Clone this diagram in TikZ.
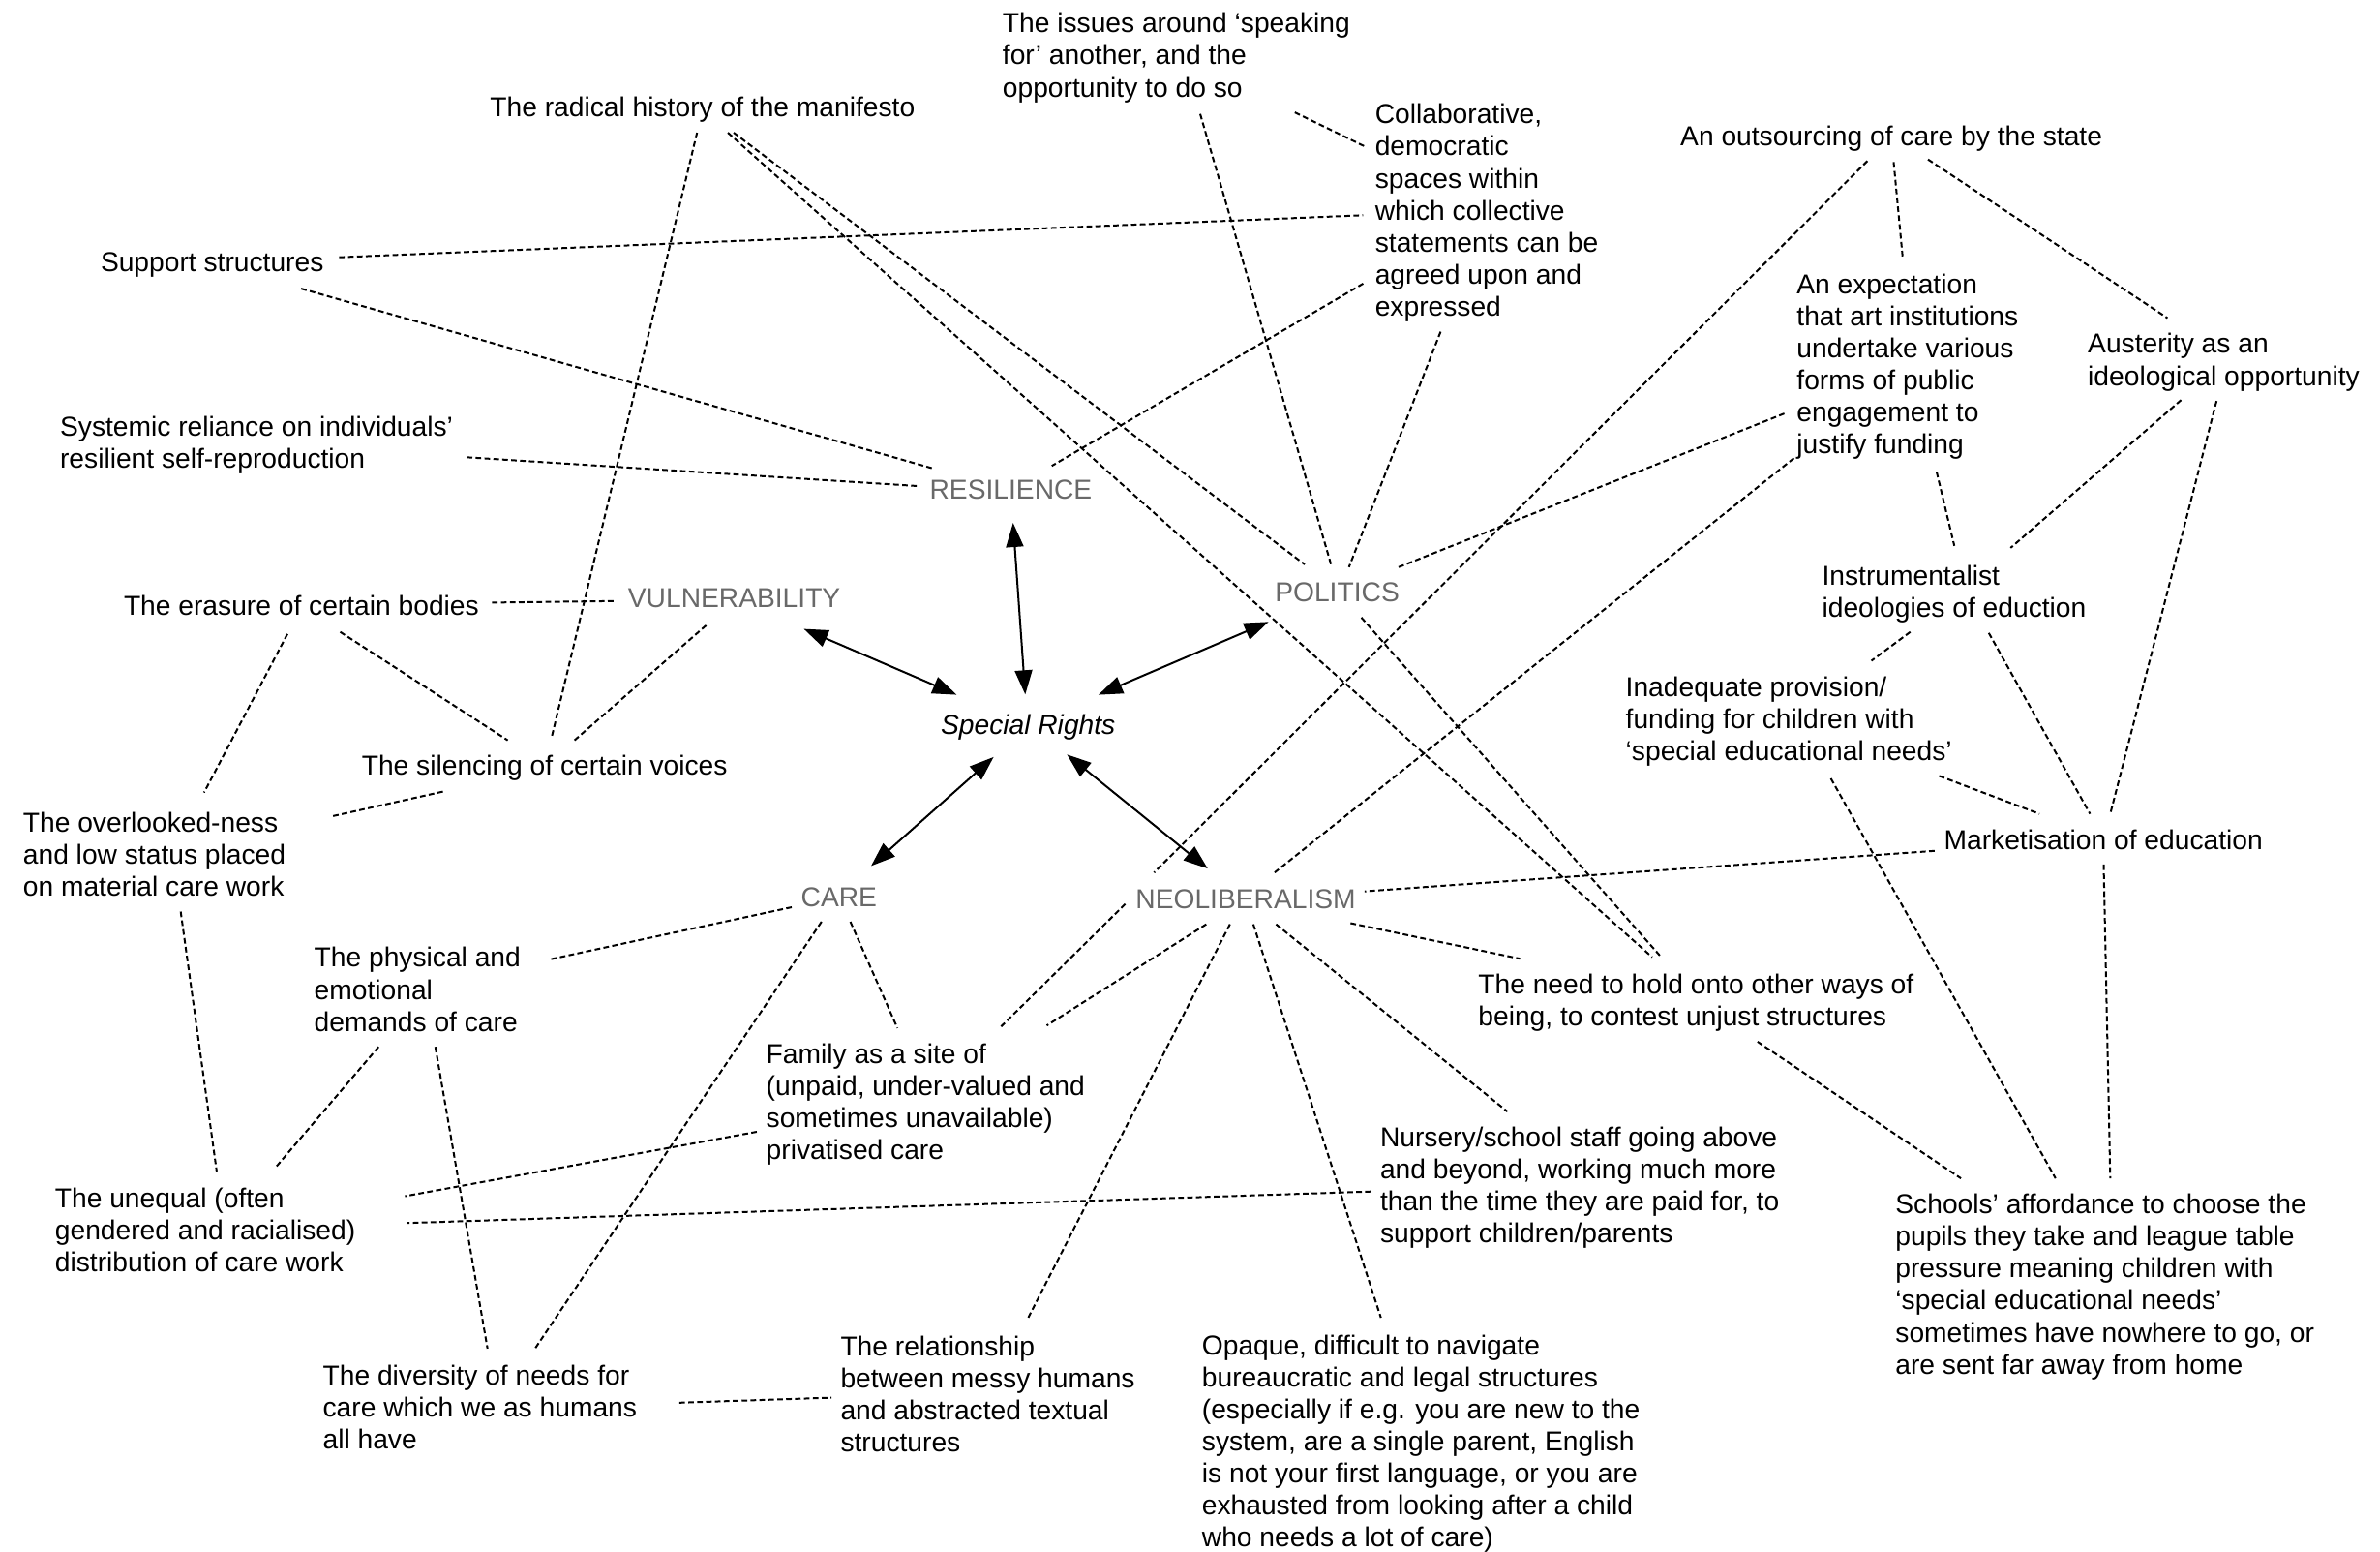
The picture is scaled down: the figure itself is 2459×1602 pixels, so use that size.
\documentclass[tikz,border=0pt]{standalone}
\usepackage{fontspec}
\setmainfont{Liberation Sans}
\usetikzlibrary{arrows.meta}
\definecolor{catgray}{RGB}{105,105,105}
\begin{document}
\begin{tikzpicture}[x=0.5pt,y=-0.5pt,
  txt/.style={anchor=north west,inner sep=0pt,align=left,font=\fontsize{14.1pt}{16.55pt}\selectfont},
  cat/.style={txt,text=catgray},
  dl/.style={line width=1pt,dash pattern=on 2.9pt off 1.7pt},
  ar/.style={line width=1pt,{Triangle[length=12.5pt,width=9pt]}-{Triangle[length=12.5pt,width=9pt]}}]
\useasboundingbox[fill=white] (0,0) rectangle (2459,1602);

% ---------- text nodes ----------
\node[txt] (issues) at (1035.5,13) {The issues around ‘speaking\\for’ another, and the\\opportunity to do so};
\node[txt] (radical) at (506,99.4) {The radical history of the manifesto};
\node[txt] (collab) at (1420.4,107) {Collaborative,\\democratic\\spaces within\\which collective\\statements can be\\agreed upon and\\expressed};
\node[txt] (outs) at (1735.8,129.2) {An outsourcing of care by the state};
\node[txt] (support) at (103.6,260.5) {Support structures};
\node[txt] (expect) at (1856,282.4) {An expectation\\that art institutions\\undertake various\\forms of public\\engagement to\\justify funding};
\node[txt] (auster) at (2156.8,344.1) {Austerity as an\\ideological opportunity};
\node[txt] (systemic) at (61.7,430) {Systemic reliance on individuals’\\resilient self-reproduction};
\node[cat] (resil) at (960.2,495.8) {RESILIENCE};
\node[txt] (instr) at (1882.2,583.2) {Instrumentalist\\ideologies of eduction};
\node[cat] (polit) at (1316.9,601.5) {POLITICS};
\node[cat] (vuln) at (648.5,608) {VULNERABILITY};
\node[txt] (erasure) at (127.6,614.5) {The erasure of certain bodies};
\node[txt] (inadeq) at (1679.3,698.2) {Inadequate provision/\\funding for children with\\‘special educational needs’};
\node[txt,font=\fontsize{14.1pt}{16.55pt}\selectfont\itshape] (special) at (971.7,737.4) {Special Rights};
\node[txt] (silenc) at (373.4,780) {The silencing of certain voices};
\node[txt] (overl) at (23.5,838.5) {The overlooked-ness\\and low status placed\\on material care work};
\node[txt] (market) at (2008.2,856.8) {Marketisation of education};
\node[cat] (care) at (827.3,915.9) {CARE};
\node[cat] (neolib) at (1173,918) {NEOLIBERALISM};
\node[txt] (phys) at (324.3,978.1) {The physical and\\emotional\\demands of care};
\node[txt] (need) at (1527,1005.8) {The need to hold onto other ways of\\being, to contest unjust structures};
\node[txt] (family) at (791.3,1077.5) {Family as a site of\\(unpaid, under-valued and\\sometimes unavailable)\\privatised care};
\node[txt] (nursery) at (1425.6,1163.8) {Nursery/school staff going above\\and beyond, working much more\\than the time they are paid for, to\\support children/parents};
\node[txt] (unequal) at (56.5,1226.6) {The unequal (often\\gendered and racialised)\\distribution of care work};
\node[txt] (schools) at (1958,1232.8) {Schools’ affordance to choose the\\pupils they take and league table\\pressure meaning children with\\‘special educational needs’\\sometimes have nowhere to go, or\\are sent far away from home};
\node[txt] (opaque) at (1241.5,1378.2) {Opaque, difficult to navigate\\bureaucratic and legal structures\\(especially if e.g. you are new to the\\system, are a single parent, English\\is not your first language, or you are\\exhausted from looking after a child\\who needs a lot of care)};
\node[txt] (relat) at (868.1,1379.8) {The relationship\\between messy humans\\and abstracted textual\\structures};
\node[txt] (divers) at (333.2,1409.6) {The diversity of needs for\\care which we as humans\\all have};

% ---------- connector ends ----------
\path
 (350.4,265.7) coordinate (support-a) (1408.4,222.3) coordinate (collab-a)
 (311.2,298.1) coordinate (support-b) (963.8,483.8) coordinate (resil-a)
 (482.2,472.3) coordinate (systemic-a) (949.7,502.1) coordinate (resil-b)
 (720.2,137) coordinate (radical-a) (570.1,761) coordinate (silenc-a)
 (508.4,622.4) coordinate (erasure-a) (637,620.8) coordinate (vuln-a)
 (351.5,652.7) coordinate (erasure-b) (524.6,764.6) coordinate (silenc-b)
 (729.6,645.9) coordinate (vuln-b) (593.6,764.6) coordinate (silenc-c)
 (297,654.8) coordinate (erasure-c) (210.8,818.6) coordinate (overl-a)
 (752,137) coordinate (radical-b) (1707,988.6) coordinate (need-a)
 (758,137) coordinate (radical-c) (1348,583) coordinate (polit-a)
 (1406.5,637.8) coordinate (polit-b) (1716.4,988.6) coordinate (need-b)
 (1240,117.7) coordinate (issues-a) (1376,585.8) coordinate (polit-c)
 (1488.4,342.6) coordinate (collab-b) (1393.7,585.8) coordinate (polit-d)
 (1337.8,116.1) coordinate (issues-b) (1411,151.7) coordinate (collab-c)
 (1408.4,292.9) coordinate (collab-d) (1086.7,481.2) coordinate (resil-c)
 (1445,585.8) coordinate (polit-e) (1845.6,426.3) coordinate (expect-a)
 (1929.3,166.3) coordinate (outs-a) (1192.4,901.2) coordinate (neolib-a)
 (1853.4,473.3) coordinate (expect-b) (1316.9,901.2) coordinate (neolib-b)
 (1956.5,167.4) coordinate (outs-b) (1965.9,266.7) coordinate (expect-c)
 (1992,164.7) coordinate (outs-c) (2239.4,328.5) coordinate (auster-a)
 (2000.9,487.4) coordinate (expect-d) (2019.2,563.8) coordinate (instr-a)
 (2253.5,413.2) coordinate (auster-b) (2077.3,565.9) coordinate (instr-b)
 (2290.1,414.2) coordinate (auster-c) (2180.3,840.6) coordinate (market-a)
 (1973.7,652.7) coordinate (instr-c) (1933.5,682.5) coordinate (inadeq-a)
 (2054.8,653.8) coordinate (instr-d) (2159.4,840.6) coordinate (market-b)
 (2003.5,801.4) coordinate (inadeq-b) (2107.1,840.6) coordinate (market-c)
 (1891.6,804) coordinate (inadeq-c) (2123.8,1217.1) coordinate (schools-a)
 (1998.8,878.8) coordinate (market-d) (1409.9,920.6) coordinate (neolib-c)
 (2173.5,892.9) coordinate (market-e) (2180.3,1217.1) coordinate (schools-b)
 (1815.8,1075.9) coordinate (need-c) (2026,1217.1) coordinate (schools-c)
 (1395.3,953.5) coordinate (neolib-d) (1570.5,990.2) coordinate (need-d)
 (1318.4,954.6) coordinate (neolib-e) (1557.4,1148.1) coordinate (nursery-a)
 (1294.9,954.6) coordinate (neolib-f) (1426.7,1361) coordinate (opaque-a)
 (1270.8,954.6) coordinate (neolib-g) (1061.6,1362.5) coordinate (relat-a)
 (1246.3,954.6) coordinate (neolib-h) (1081.5,1059.2) coordinate (family-a)
 (1162.6,933.7) coordinate (neolib-i) (1034.4,1060.2) coordinate (family-b)
 (878.6,952) coordinate (care-a) (927.2,1061.8) coordinate (family-c)
 (848.8,952) coordinate (care-b) (552.8,1392.9) coordinate (divers-a)
 (818,937) coordinate (care-c) (567.6,991) coordinate (phys-a)
 (1416.2,1230.7) coordinate (nursery-b) (421,1263.2) coordinate (unequal-a)
 (781.9,1169) coordinate (family-d) (418.4,1235.5) coordinate (unequal-b)
 (391.2,1081.2) coordinate (phys-b) (284,1206.7) coordinate (unequal-c)
 (449.8,1081.2) coordinate (phys-c) (503.7,1392.9) coordinate (divers-b)
 (186.7,941.5) coordinate (overl-b) (223.9,1209.8) coordinate (unequal-d)
 (457.6,817.6) coordinate (silenc-d) (342.6,843.2) coordinate (overl-c)
 (701.9,1448.8) coordinate (divers-c) (859.2,1443.6) coordinate (relat-b);

% ---------- dashed connectors ----------
\draw[dl] (support-a) -- (collab-a);
\draw[dl] (support-b) -- (resil-a);
\draw[dl] (systemic-a) -- (resil-b);
\draw[dl] (radical-a) -- (silenc-a);
\draw[dl] (erasure-a) -- (vuln-a);
\draw[dl] (erasure-b) -- (silenc-b);
\draw[dl] (vuln-b) -- (silenc-c);
\draw[dl] (erasure-c) -- (overl-a);
\draw[dl] (radical-b) -- (need-a);
\draw[dl] (radical-c) -- (polit-a);
\draw[dl] (polit-b) -- (need-b);
\draw[dl] (issues-a) -- (polit-c);
\draw[dl] (collab-b) -- (polit-d);
\draw[dl] (issues-b) -- (collab-c);
\draw[dl] (collab-d) -- (resil-c);
\draw[dl] (polit-e) -- (expect-a);
\draw[dl] (outs-a) -- (neolib-a);
\draw[dl] (expect-b) -- (neolib-b);
\draw[dl] (outs-b) -- (expect-c);
\draw[dl] (outs-c) -- (auster-a);
\draw[dl] (expect-d) -- (instr-a);
\draw[dl] (auster-b) -- (instr-b);
\draw[dl] (auster-c) -- (market-a);
\draw[dl] (instr-c) -- (inadeq-a);
\draw[dl] (instr-d) -- (market-b);
\draw[dl] (inadeq-b) -- (market-c);
\draw[dl] (inadeq-c) -- (schools-a);
\draw[dl] (market-d) -- (neolib-c);
\draw[dl] (market-e) -- (schools-b);
\draw[dl] (need-c) -- (schools-c);
\draw[dl] (neolib-d) -- (need-d);
\draw[dl] (neolib-e) -- (nursery-a);
\draw[dl] (neolib-f) -- (opaque-a);
\draw[dl] (neolib-g) -- (relat-a);
\draw[dl] (neolib-h) -- (family-a);
\draw[dl] (neolib-i) -- (family-b);
\draw[dl] (care-a) -- (family-c);
\draw[dl] (care-b) -- (divers-a);
\draw[dl] (care-c) -- (phys-a);
\draw[dl] (nursery-b) -- (unequal-a);
\draw[dl] (family-d) -- (unequal-b);
\draw[dl] (phys-b) -- (unequal-c);
\draw[dl] (phys-c) -- (divers-b);
\draw[dl] (overl-b) -- (unequal-d);
\draw[dl] (silenc-d) -- (overl-c);
\draw[dl] (divers-c) -- (relat-b);

% ---------- arrows ----------
\path
 (1046.7,540) coordinate (resil-s) (1059.3,717.3) coordinate (special-r)
 (830.5,649.6) coordinate (vuln-s) (988.4,717.6) coordinate (special-v)
 (1310.6,642.3) coordinate (polit-s) (1134.9,717.6) coordinate (special-p)
 (900,894.4) coordinate (care-s) (1026.6,781.9) coordinate (special-c)
 (1247.8,897.1) coordinate (neolib-s) (1102.4,779.3) coordinate (special-n);
\draw[ar] (resil-s) -- (special-r);
\draw[ar] (vuln-s) -- (special-v);
\draw[ar] (polit-s) -- (special-p);
\draw[ar] (care-s) -- (special-c);
\draw[ar] (neolib-s) -- (special-n);
\end{tikzpicture}
\end{document}
